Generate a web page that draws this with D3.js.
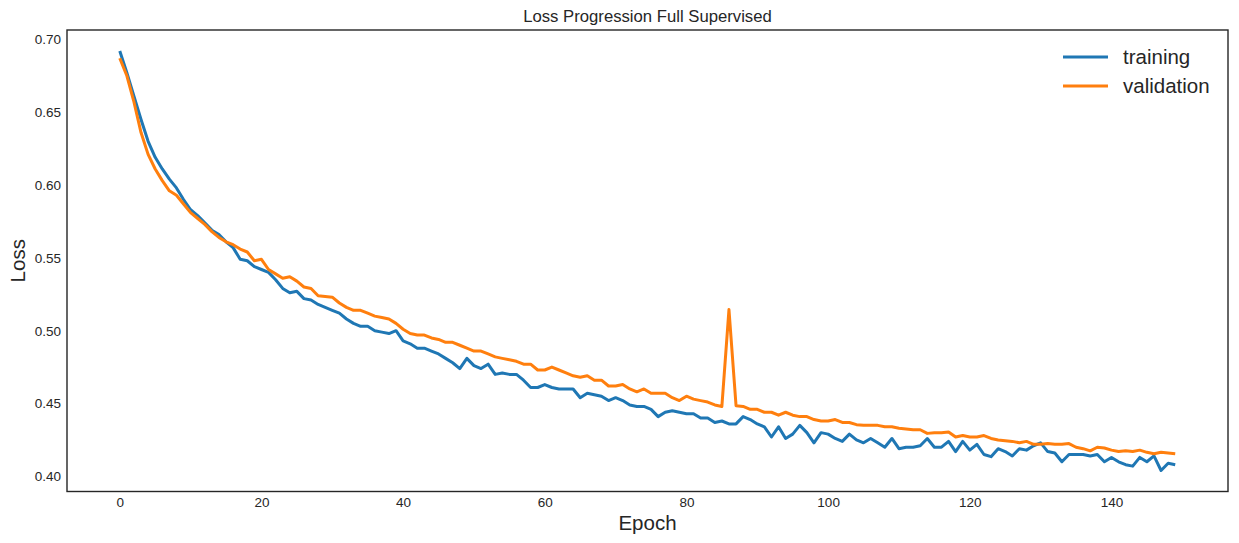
<!DOCTYPE html>
<html>
<head>
<meta charset="utf-8">
<script src="https://cdn.jsdelivr.net/npm/d3@7"></script>
<style>
  body { margin: 0; background: #ffffff; }
  svg { display: block; font-family: "Liberation Sans", Arial, sans-serif; }
</style>
</head>
<body>
<div id="chart"></div>
<script>
// Loss curves, one value per epoch (0..149)
const training = [
  0.692, 0.677, 0.661, 0.645, 0.630, 0.619, 0.611, 0.604, 0.598, 0.590,
  0.583, 0.579, 0.574, 0.569, 0.566, 0.561, 0.557, 0.549, 0.548, 0.544,
  0.542, 0.540, 0.535, 0.529, 0.526, 0.527, 0.522, 0.521, 0.518, 0.516,
  0.514, 0.512, 0.508, 0.505, 0.503, 0.503, 0.500, 0.499, 0.498, 0.500,
  0.493, 0.491, 0.488, 0.488, 0.486, 0.484, 0.481, 0.478, 0.474, 0.481,
  0.476, 0.474, 0.477, 0.470, 0.471, 0.470, 0.470, 0.466, 0.461, 0.461,
  0.463, 0.461, 0.460, 0.460, 0.460, 0.454, 0.457, 0.456, 0.455, 0.452,
  0.454, 0.452, 0.449, 0.448, 0.448, 0.446, 0.441, 0.444, 0.445, 0.444,
  0.443, 0.443, 0.440, 0.440, 0.437, 0.438, 0.436, 0.436, 0.441, 0.439,
  0.436, 0.434, 0.427, 0.434, 0.426, 0.429, 0.435, 0.430, 0.423, 0.430,
  0.429, 0.426, 0.424, 0.429, 0.425, 0.423, 0.426, 0.423, 0.420, 0.426,
  0.419, 0.420, 0.420, 0.421, 0.426, 0.420, 0.420, 0.424, 0.417, 0.424,
  0.418, 0.422, 0.415, 0.4135, 0.419, 0.417, 0.414, 0.419, 0.418, 0.421,
  0.423, 0.417, 0.416, 0.410, 0.415, 0.415, 0.415, 0.414, 0.415, 0.410,
  0.413, 0.410, 0.408, 0.407, 0.413, 0.410, 0.414, 0.404, 0.409, 0.408
];

const validation = [
  0.687, 0.675, 0.657, 0.636, 0.621, 0.611, 0.603, 0.596, 0.593, 0.587,
  0.581, 0.577, 0.573, 0.568, 0.564, 0.561, 0.559, 0.556, 0.554, 0.548,
  0.549, 0.542, 0.539, 0.536, 0.537, 0.534, 0.530, 0.529, 0.524, 0.5235,
  0.523, 0.519, 0.516, 0.514, 0.514, 0.512, 0.510, 0.509, 0.508, 0.505,
  0.501, 0.498, 0.497, 0.497, 0.495, 0.494, 0.492, 0.492, 0.490, 0.488,
  0.486, 0.486, 0.484, 0.482, 0.481, 0.480, 0.479, 0.477, 0.477, 0.473,
  0.473, 0.475, 0.473, 0.471, 0.469, 0.468, 0.469, 0.466, 0.466, 0.462,
  0.462, 0.463, 0.460, 0.458, 0.460, 0.457, 0.457, 0.457, 0.454, 0.452,
  0.455, 0.453, 0.452, 0.451, 0.449, 0.448, 0.5145, 0.4485, 0.448, 0.446,
  0.446, 0.444, 0.444, 0.442, 0.444, 0.442, 0.441, 0.441, 0.439, 0.438,
  0.438, 0.439, 0.437, 0.437, 0.4355, 0.435, 0.435, 0.435, 0.434, 0.434,
  0.433, 0.4325, 0.432, 0.432, 0.4295, 0.430, 0.430, 0.4305, 0.427, 0.428,
  0.427, 0.427, 0.428, 0.426, 0.425, 0.4245, 0.424, 0.423, 0.424, 0.422,
  0.422, 0.4225, 0.422, 0.422, 0.4225, 0.420, 0.419, 0.4175, 0.420, 0.4195,
  0.418, 0.417, 0.4175, 0.417, 0.418, 0.4165, 0.4155, 0.4165, 0.416, 0.4155
];

const xTicks = [0, 20, 40, 60, 80, 100, 120, 140];
const yTicks = [0.40, 0.45, 0.50, 0.55, 0.60, 0.65, 0.70];
const seriesNames = ["training", "validation"];
const seriesColors = ["#1f77b4", "#ff7f0e"];

const width = 1239, height = 543;
const margin = {top: 30, right: 11, bottom: 51.5, left: 67};

const svg = d3.select("#chart")
    .append("svg")
    .attr("width", width)
    .attr("height", height);

// matplotlib style 5% padding around data
const n = training.length;
const xPad = (n - 1) * 0.05;
const allVals = training.concat(validation);
const yMin = d3.min(allVals), yMax = d3.max(allVals);
const yPad = (yMax - yMin) * 0.05;

const x = d3.scaleLinear()
    .domain([-xPad, n - 1 + xPad])
    .range([margin.left, width - margin.right]);
const y = d3.scaleLinear()
    .domain([yMin - yPad, yMax + yPad])
    .range([height - margin.bottom, margin.top]);

// X axis labels (no tick marks)
const xAxis = svg.append("g")
    .attr("transform", "translate(0," + (height - margin.bottom) + ")")
    .call(d3.axisBottom(x).tickValues(xTicks).tickSize(0).tickPadding(6).tickFormat(d3.format("d")));
xAxis.select(".domain").remove();
xAxis.selectAll("text").attr("fill", "#262626").style("font-size", "13.5px");

// Y axis labels
const yAxis = svg.append("g")
    .attr("transform", "translate(" + margin.left + ",0)")
    .call(d3.axisLeft(y).tickValues(yTicks).tickSize(0).tickPadding(6).tickFormat(d3.format(".2f")));
yAxis.select(".domain").remove();
yAxis.selectAll("text").attr("fill", "#262626").style("font-size", "13.5px");

// lines
const line = d3.line()
    .x((d, i) => x(i))
    .y(d => y(d));

[training, validation].forEach((s, k) => {
    svg.append("path")
        .datum(s)
        .attr("fill", "none")
        .attr("stroke", seriesColors[k])
        .attr("stroke-width", 3)
        .attr("stroke-linejoin", "round")
        .attr("stroke-linecap", "butt")
        .attr("d", line);
});

// frame
svg.append("rect")
    .attr("x", margin.left)
    .attr("y", margin.top)
    .attr("width", width - margin.left - margin.right)
    .attr("height", height - margin.top - margin.bottom)
    .attr("fill", "none")
    .attr("stroke", "#262626")
    .attr("stroke-width", 1.4);

// title and axis labels
svg.append("text")
    .attr("x", (margin.left + width - margin.right) / 2)
    .attr("y", 22)
    .attr("text-anchor", "middle")
    .attr("fill", "#262626")
    .style("font-size", "16.7px")
    .text("Loss Progression Full Supervised");

svg.append("text")
    .attr("x", (margin.left + width - margin.right) / 2)
    .attr("y", 530)
    .attr("text-anchor", "middle")
    .attr("fill", "#262626")
    .style("font-size", "20.5px")
    .text("Epoch");

svg.append("text")
    .attr("transform", "translate(25," + ((margin.top + height - margin.bottom) / 2) + ") rotate(-90)")
    .attr("text-anchor", "middle")
    .attr("fill", "#262626")
    .style("font-size", "20.5px")
    .text("Loss");

// legend
const legend = svg.append("g").attr("transform", "translate(1063,57)");
seriesNames.forEach((name, k) => {
    const g = legend.append("g").attr("transform", "translate(0," + (k * 29) + ")");
    g.append("line")
        .attr("x1", 0).attr("x2", 45)
        .attr("y1", 0).attr("y2", 0)
        .attr("stroke", seriesColors[k])
        .attr("stroke-width", 3);
    g.append("text")
        .attr("x", 60)
        .attr("y", 7)
        .attr("fill", "#262626")
        .style("font-size", "20.5px")
        .text(name);
});
</script>
</body>
</html>
